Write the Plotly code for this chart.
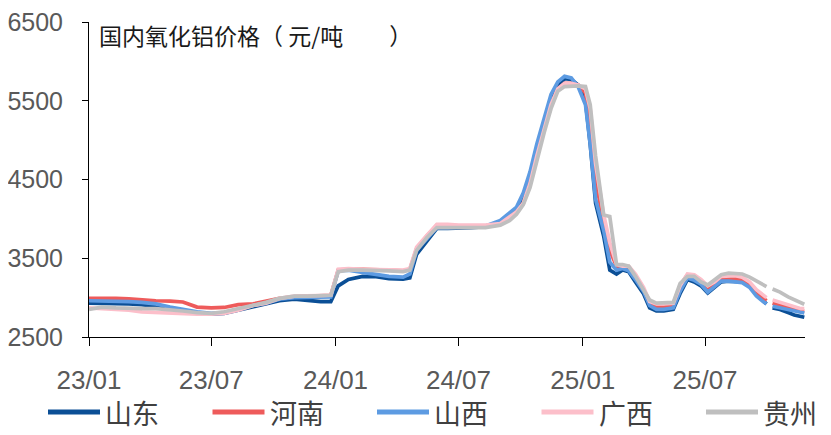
import plotly.graph_objects as go

dates = [
    "2023-01-01", "2023-01-20", "2023-02-10", "2023-03-01", "2023-03-20", "2023-04-10", "2023-05-01",
    "2023-05-20", "2023-06-10", "2023-07-01", "2023-07-20", "2023-08-10", "2023-09-01", "2023-09-20",
    "2023-10-10", "2023-11-01", "2023-11-20", "2023-12-10", "2023-12-25",
    "2024-01-05", "2024-01-20", "2024-02-10", "2024-03-01", "2024-03-20", "2024-04-10", "2024-04-20",
    "2024-04-30", "2024-05-15", "2024-05-30", "2024-06-15", "2024-07-01", "2024-07-20", "2024-08-10",
    "2024-09-01", "2024-09-15", "2024-09-25", "2024-10-05", "2024-10-15", "2024-10-25", "2024-11-05",
    "2024-11-15", "2024-11-25", "2024-12-05", "2024-12-15", "2024-12-25",
    "2025-01-05", "2025-01-12", "2025-01-20", "2025-02-01", "2025-02-10", "2025-02-20", "2025-03-01",
    "2025-03-10", "2025-03-20", "2025-04-01", "2025-04-10", "2025-04-20", "2025-05-01", "2025-05-15",
    "2025-05-25", "2025-06-05", "2025-06-15", "2025-06-25", "2025-07-05", "2025-07-15", "2025-07-25",
    "2025-08-05", "2025-08-15", "2025-08-25", "2025-09-05", "2025-09-15", "2025-09-25", "2025-09-30",
    "2025-10-03", "2025-10-09", "2025-10-20", "2025-11-01", "2025-11-10", "2025-11-20", "2025-11-25",
]

shandong = [
    2930, 2930, 2925, 2920, 2910, 2890, 2860, 2840, 2810, 2790, 2800, 2840, 2890, 2920, 2960, 2980, 2960, 2950, 2950,
    3150, 3230, 3270, 3265, 3240, 3235, 3250, 3550, 3720, 3880, 3880, 3880, 3890, 3900, 3950, 4050, 4100, 4250,
    4500, 4850, 5200, 5480, 5680, 5780, 5770, 5700,
    5500, 4950, 4200, 3780, 3350, 3300, 3350, 3330, 3200, 3050, 2870, 2830, 2830, 2850, 3050, 3230, 3200, 3150,
    3060, 3130, 3200, 3210, 3210, 3200, 3160, 3050, 2960, 2920, None, 2870, 2850, 2810, 2780, 2760, 2750,
]
henan = [
    2990, 2995, 2990, 2985, 2970, 2960, 2955, 2945, 2880, 2870, 2875, 2910, 2920, 2950, 2990, 3010, 3020, 3020, 3030,
    3350, 3360, 3360, 3360, 3350, 3340, 3360, 3620, 3780, 3920, 3920, 3910, 3900, 3900, 3930, 4000, 4080, 4200,
    4450, 4800, 5150, 5450, 5650, 5720, 5720, 5700,
    5600, 5200, 4500, 3950, 3600, 3400, 3380, 3380, 3280, 3100, 2920, 2880, 2880, 2900, 3150, 3290, 3280, 3200,
    3120, 3170, 3230, 3240, 3240, 3220, 3150, 3060, 3000, 2960, None, 2930, 2900, 2870, 2850, 2830, 2830,
]
shanxi = [
    2960, 2960, 2960, 2950, 2940, 2920, 2880, 2850, 2820, 2800, 2810, 2850, 2900, 2930, 2980, 3000, 3000, 3000, 3010,
    3340, 3350, 3320, 3290, 3270, 3260, 3300, 3600, 3740, 3890, 3890, 3890, 3900, 3910, 3980, 4080, 4150, 4330,
    4600, 4950, 5300, 5580, 5740, 5810, 5790, 5680,
    5450, 4950, 4250, 3850, 3450, 3350, 3370, 3340, 3230, 3080, 2900, 2850, 2850, 2870, 3080, 3250, 3220, 3170,
    3070, 3140, 3210, 3210, 3200, 3190, 3130, 3020, 2950, 2920, None, 2890, 2870, 2850, 2830, 2810, 2805,
]
guangxi = [
    2870, 2860, 2860, 2840, 2820, 2810, 2800, 2790, 2790, 2790, 2800, 2840, 2900, 2930, 2990, 3020, 3020, 3020, 3030,
    3360, 3370, 3360, 3360, 3360, 3350, 3370, 3640, 3790, 3930, 3930, 3920, 3920, 3920, 3940, 4020, 4090, 4200,
    4450, 4800, 5150, 5450, 5650, 5720, 5720, 5700,
    5650, 5400, 4700, 4050, 3700, 3420, 3400, 3400, 3300, 3130, 2950, 2920, 2920, 2930, 3150, 3300, 3290, 3230,
    3150, 3200, 3270, 3280, 3280, 3260, 3200, 3100, 3030, 3000, None, 2970, 2940, 2910, 2880, 2860, 2860,
]
guizhou = [
    2850, 2880, 2870, 2860, 2860, 2860, 2850, 2830, 2810, 2800, 2820, 2860, 2910, 2940, 2990, 3020, 3020, 3020, 3030,
    3330, 3350, 3350, 3350, 3340, 3330, 3350, 3600, 3760, 3890, 3890, 3880, 3890, 3890, 3920, 3980, 4060, 4180,
    4400, 4750, 5100, 5400, 5620, 5680, 5690, 5690,
    5680, 5450, 4800, 4050, 4030, 3420, 3420, 3400, 3270, 3100, 2970, 2930, 2930, 2940, 3180, 3270, 3270, 3200,
    3160, 3220, 3290, 3310, 3310, 3300, 3260, 3210, 3160, 3140, None, 3110, 3070, 3010, 2970, 2930, 2915,
]

series_names = ["山东", "河南", "山西", "广西", "贵州"]
series_values = [shandong, henan, shanxi, guangxi, guizhou]
series_colors = ["#0B4F96", "#EE5B5B", "#5D9BE2", "#FCBFCA", "#BFBFBF"]

x_tick_vals = ["2023-01-01", "2023-07-01", "2024-01-01", "2024-07-01", "2025-01-01", "2025-07-01"]
x_tick_text = ["23/01", "23/07", "24/01", "24/07", "25/01", "25/07"]
y_tick_vals = [2500, 3500, 4500, 5500, 6500]

title_text = "国内氧化铝价格（ 元/吨\u3000\u3000）"

# geometry: the page body adds an 8px margin, so the figure is sized to fit the window
OFF = 8
W, H = 831 - OFF, 435 - OFF
SL, SR, ST, SB = 89, 805, 22, 337          # plot area in window pixels
L, T = SL - OFF, ST - OFF
R, B = W - (SR - OFF), H - (SB - OFF)
PW, PH = SR - SL, SB - ST


def px(sx):
    return (sx - SL) / PW


def py(sy):
    return (SB - sy) / PH


fig = go.Figure()
for name, vals, col in zip(series_names, series_values, series_colors):
    fig.add_trace(go.Scatter(x=dates, y=vals, name=name, mode="lines",
                             line=dict(color=col, width=3.7), connectgaps=False,
                             showlegend=False))

x_tick_font = dict(family="Liberation Sans, Arial, sans-serif", size=26, color="#595959")
y_tick_font = dict(family="Liberation Sans, Arial, sans-serif", size=25, color="#595959")
cjk = "Noto Sans CJK SC, Noto Sans, sans-serif"

shapes = []
annotations = [dict(text=title_text, xref="paper", yref="paper", x=px(97), y=py(35),
                    xanchor="left", yanchor="middle", showarrow=False,
                    font=dict(family=cjk, size=23, color="#1a1a1a"))]

# legend row drawn at the bottom
leg_y = 412
for i, (name, col) in enumerate(zip(series_names, series_colors)):
    x0 = 48 + 164.5 * i
    shapes.append(dict(type="line", xref="paper", yref="paper", x0=px(x0), x1=px(x0 + 52),
                       y0=py(leg_y), y1=py(leg_y), line=dict(color=col, width=5)))
    annotations.append(dict(text=name, xref="paper", yref="paper", x=px(x0 + 55), y=py(leg_y),
                            xanchor="left", yanchor="middle", showarrow=False,
                            font=dict(family=cjk, size=27, color="#404040")))

fig.update_layout(
    width=W, height=H,
    margin=dict(l=L, r=R, t=T, b=B, pad=0),
    plot_bgcolor="white", paper_bgcolor="white",
    showlegend=False,
    xaxis=dict(type="date", range=["2023-01-01", "2025-11-26"], tickvals=x_tick_vals, ticktext=x_tick_text,
               showline=True, linecolor="#000000", linewidth=1, ticks="outside", ticklen=8,
               tickcolor="#000000", tickfont=x_tick_font, showgrid=False, zeroline=False,
               ticklabelstandoff=12, automargin=False, ticklabeloverflow="allow"),
    yaxis=dict(range=[2500, 6500], tickvals=y_tick_vals, showline=True, linecolor="#000000", linewidth=1,
               ticks="outside", ticklen=6, tickcolor="#000000", tickfont=y_tick_font,
               showgrid=False, zeroline=False, ticklabelstandoff=14, automargin=False,
               ticklabeloverflow="allow"),
    shapes=shapes,
    annotations=annotations,
)

fig.write_html("out.html")
